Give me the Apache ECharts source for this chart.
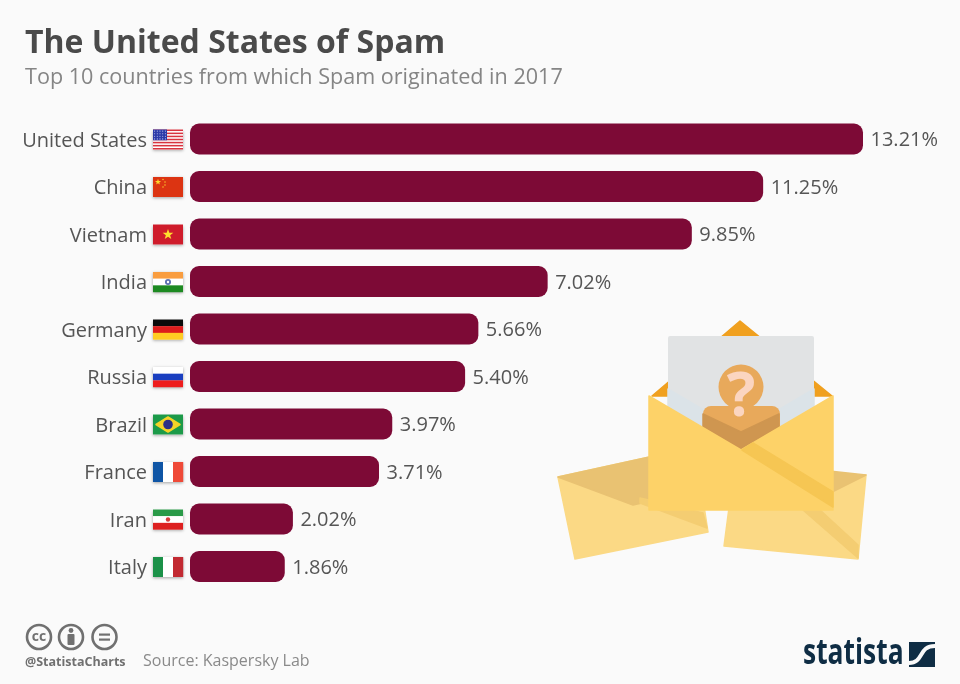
<!DOCTYPE html>
<html>
<head>
<meta charset="utf-8">
<style>
html, body { margin: 0; padding: 0; background: #fafafa; }
#chart { width: 960px; height: 684px; }
</style>
<script src="https://cdn.jsdelivr.net/npm/echarts@6/dist/echarts.min.js"></script>
</head>
<body>
<div id="chart"></div>
<script>
var countries = ['United States', 'China', 'Vietnam', 'India', 'Germany', 'Russia', 'Brazil', 'France', 'Iran', 'Italy'];
var shares = [13.21, 11.25, 9.85, 7.02, 5.66, 5.40, 3.97, 3.71, 2.02, 1.86];

var font = '"Open Sans", sans-serif';
var myChart = echarts.init(document.getElementById('chart'));

function rect(x, y, w, h, fill, r) {
    return { type: 'rect', shape: { x: x, y: y, width: w, height: h, r: r || 0 }, style: { fill: fill } };
}
function poly(points, fill) {
    return {
        type: 'polygon', shape: { points: points },
        style: { fill: fill, stroke: fill, lineWidth: 1.5, lineJoin: 'round' }
    };
}
function dot(cx, cy, r, fill) {
    return { type: 'circle', shape: { cx: cx, cy: cy, r: r }, style: { fill: fill } };
}
function star(cx, cy, r, fill) {
    var pts = [];
    for (var i = 0; i < 10; i++) {
        var a = -Math.PI / 2 + i * Math.PI / 5;
        var d = i % 2 ? r * 0.4 : r;
        pts.push([cx + d * Math.cos(a), cy + d * Math.sin(a)]);
    }
    return { type: 'polygon', shape: { points: pts }, style: { fill: fill } };
}
function bands(colors) {
    // horizontal stripes filling the 30x20 flag
    var h = 20 / colors.length;
    return colors.map(function (c, i) { return rect(0, i * h, 30, h + 0.2, c); });
}
function vbands(colors) {
    return colors.map(function (c, i) { return rect(i * 10, 0, 10.2, 20, c); });
}

var flags = {
    'United States': function () {
        var list = [rect(0, 0, 30, 20, '#fff')];
        for (var i = 0; i < 7; i++) list.push(rect(0, i * 3.08, 30, 1.54, '#d8343f'));
        list.push(rect(0, 0, 14, 10.8, '#2b3aa8'));
        for (var r = 0; r < 4; r++) {
            for (var c = 0; c < 5; c++) list.push(dot(1.6 + c * 2.7, 1.6 + r * 2.6, 0.55, '#c9cff0'));
        }
        return list;
    },
    'China': function () {
        return [rect(0, 0, 30, 20, '#dc3412'), star(5, 5, 3.2, '#ffd52e'), dot(10, 2.5, 0.7, '#ffd52e'),
            dot(12, 5, 0.7, '#ffd52e'), dot(12, 8, 0.7, '#ffd52e'), dot(10, 10, 0.7, '#ffd52e')];
    },
    'Vietnam': function () {
        return [rect(0, 0, 30, 20, '#cf1c2b'), star(15, 10, 5.6, '#ffdf2e')];
    },
    'India': function () {
        return bands(['#f99d3f', '#ffffff', '#1d8a22']).concat([dot(15, 10, 3, '#5a6fb0'), dot(15, 10, 1.2, '#fff')]);
    },
    'Germany': function () {
        return bands(['#0a0a0a', '#dd1c1c', '#ffcc22']);
    },
    'Russia': function () {
        return bands(['#ffffff', '#1a3fc0', '#ee1c1c']);
    },
    'Brazil': function () {
        return [rect(0, 0, 30, 20, '#1c9a49'), poly([[15, 2.5], [27, 10], [15, 17.5], [3, 10]], '#f5d327'), dot(15, 10, 4.8, '#2c2f86')];
    },
    'France': function () {
        return vbands(['#0f55a5', '#ffffff', '#ef4a38']);
    },
    'Iran': function () {
        return bands(['#2a9a48', '#ffffff', '#dd2020']).concat([dot(15, 10, 2.2, '#d83a3a')]);
    },
    'Italy': function () {
        return vbands(['#1b9148', '#ffffff', '#c22a32']);
    }
};

function envelopes() {
    return [
        // right envelope
        poly([[730, 500], [866, 475], [858, 559], [724, 546]], '#fbd985'),
        poly([[820, 470], [866, 475], [820, 498]], '#e9c272'),
        poly([[803, 510], [820, 510], [858, 545], [858, 558]], '#f4cd72'),
        // left envelope
        poly([[558, 477], [695, 447], [708, 532], [575, 559]], '#fbd985'),
        poly([[558, 477], [695, 447], [700, 490], [633, 505]], '#e9c272'),
        poly([[640, 498], [703, 513], [707, 528], [640, 503]], '#f4cd72'),
        // main envelope
        poly([[740, 321], [832, 396], [652, 396]], '#f0a01f'),
        { type: 'rect', shape: { x: 668, y: 336, width: 146, height: 110, r: 2 }, style: { fill: '#e1e3e4' } },
        poly([[668, 389], [741, 432], [814, 389], [814, 445], [668, 445]], '#dbe3e8'),
        dot(741, 387, 22.5, '#e8a95b'),
        { type: 'rect', shape: { x: 703, y: 406, width: 77, height: 34, r: [8, 8, 0, 0] }, style: { fill: '#e8a95b' } },
        poly([[703, 414], [741, 432], [779, 414], [779, 427], [741, 449], [703, 427]], '#cf9650'),
        {
            type: 'text', style: {
                x: 741, y: 399, text: '?', fill: '#fbd5c0', font: 'bold 60px ' + font,
                textAlign: 'center', textVerticalAlign: 'middle'
            }
        },
        poly([[649, 396], [741, 450], [833, 396], [833, 510], [649, 510]], '#fdd268'),
        poly([[753, 443], [833, 492], [833, 507], [742, 450]], '#f6c653')
    ];
}

function footer() {
    var grey = '#707070';
    var ring = function (cx) {
        return { type: 'circle', shape: { cx: cx, cy: 637, r: 12 }, style: { fill: 'none', stroke: grey, lineWidth: 2.6 } };
    };
    return [
        ring(39), ring(71), ring(104.5),
        { type: 'text', style: { x: 39, y: 637, text: 'cc', fill: grey, font: 'bold 14px ' + font, textAlign: 'center', textVerticalAlign: 'middle' } },
        dot(71, 630.5, 2.4, grey),
        rect(67.5, 634, 7, 11, grey, 1),
        rect(99, 633.5, 11, 2.2, grey),
        rect(99, 638.5, 11, 2.2, grey),
        { type: 'text', style: { x: 25, y: 662, text: '@StatistaCharts', fill: '#707070', font: 'bold 12.5px ' + font, textVerticalAlign: 'middle' } },
        { type: 'text', style: { x: 143, y: 661, text: 'Source: Kaspersky Lab', fill: '#8a8a8a', font: '16px ' + font, textVerticalAlign: 'middle' } },
        { type: 'text', x: 803, y: 654, scaleX: 0.755, style: { x: 0, y: 0, text: 'statista', fill: '#0f2d44', font: 'bold 35px ' + font, textVerticalAlign: 'middle' } },
        rect(909, 642, 26, 25, '#0f2d44'),
        {
            type: 'bezierCurve',
            shape: { x1: 909, y1: 663, x2: 935, y2: 646, cpx1: 924, cpy1: 663, cpx2: 918, cpy2: 646 },
            style: { fill: 'none', stroke: '#fafafa', lineWidth: 4 }
        }
    ];
}

var option = {
    backgroundColor: '#fafafa',
    animation: false,
    title: [{
        text: 'The United States of Spam',
        left: 20, top: 23,
        textStyle: { fontFamily: font, fontSize: 32, fontWeight: 'bold', color: '#4a4a4a' }
    }, {
        text: 'Top 10 countries from which Spam originated in 2017',
        left: 20, top: 62,
        textStyle: { fontFamily: font, fontSize: 21.6, fontWeight: 'normal', color: '#858585' }
    }],
    grid: { left: 190, top: 115.25, width: 673, height: 475 },
    xAxis: { type: 'value', min: 0, max: 13.21, show: false },
    yAxis: {
        type: 'category',
        inverse: true,
        data: countries,
        axisLine: { show: false },
        axisTick: { show: false },
        axisLabel: {
            margin: 43,
            formatter: '{a|{value}}',
            rich: { a: { fontFamily: font, fontSize: 20, color: '#555555', padding: [4, 0, 0, 0] } }
        }
    },
    series: [{
        type: 'bar',
        data: shares,
        barWidth: 31,
        itemStyle: { color: '#7d0a36', borderRadius: 9 },
        label: {
            show: true,
            position: 'right',
            distance: 7.5,
            offset: [0, 1.5],
            fontFamily: font,
            fontSize: 20,
            color: '#555555',
            formatter: function (p) { return p.value.toFixed(2) + '%'; }
        }
    }]
};
myChart.setOption(option);

// flags follow the category axis, so they are placed after the first layout
var flagGroups = countries.map(function (name) {
    var cy = myChart.convertToPixel({ yAxisIndex: 0 }, name);
    var shadow = {
        type: 'rect', shape: { x: 0, y: 0, width: 30, height: 20 },
        style: { fill: '#fff', shadowBlur: 3, shadowColor: 'rgba(0,0,0,0.35)', shadowOffsetY: 1 }
    };
    return { type: 'group', x: 153, y: cy - 9.5, children: [shadow].concat(flags[name]()) };
});

myChart.setOption({
    graphic: { elements: envelopes().concat(footer(), flagGroups) }
});
</script>
</body>
</html>
